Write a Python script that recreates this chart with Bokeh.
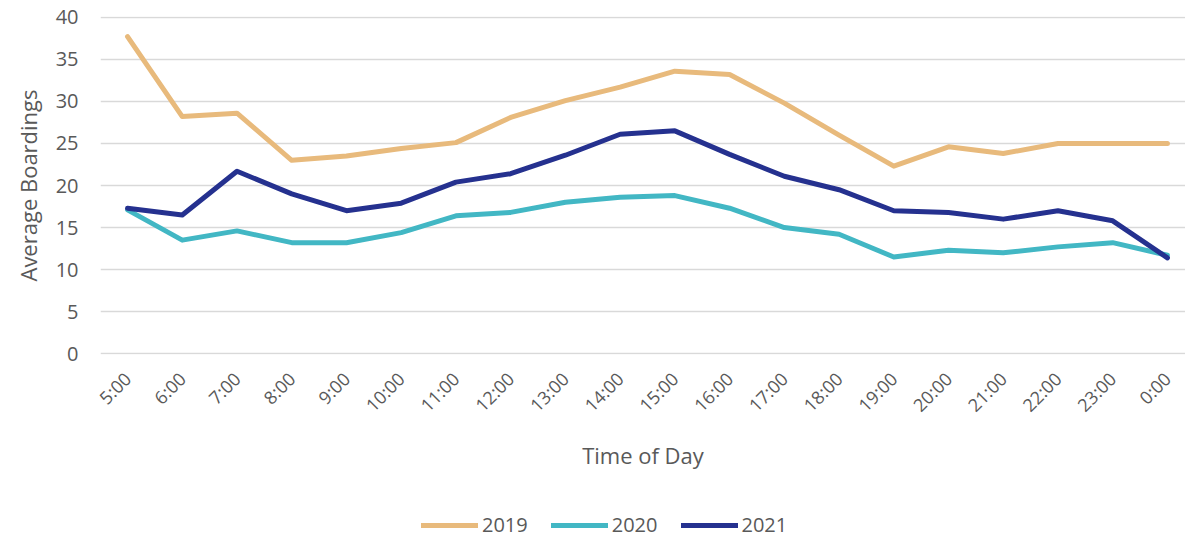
from bokeh.plotting import figure
from bokeh.layouts import column
from bokeh.models import ColumnDataSource, FixedTicker, Legend, LegendItem, Range1d
from bokeh.embed import file_html
from bokeh.resources import INLINE
import math

hours = ["5:00", "6:00", "7:00", "8:00", "9:00", "10:00", "11:00", "12:00", "13:00", "14:00",
         "15:00", "16:00", "17:00", "18:00", "19:00", "20:00", "21:00", "22:00", "23:00", "0:00"]
y2019 = [37.7, 28.2, 28.6, 23.0, 23.5, 24.4, 25.1, 28.1, 30.1, 31.7,
         33.6, 33.2, 29.8, 26.0, 22.3, 24.6, 23.8, 25.0, 25.0, 25.0]
y2020 = [17.1, 13.5, 14.6, 13.2, 13.2, 14.4, 16.4, 16.8, 18.0, 18.6,
         18.8, 17.3, 15.0, 14.2, 11.5, 12.3, 12.0, 12.7, 13.2, 11.7]
y2021 = [17.3, 16.5, 21.7, 19.0, 17.0, 17.9, 20.4, 21.4, 23.6, 26.1,
         26.5, 23.7, 21.1, 19.5, 17.0, 16.8, 16.0, 17.0, 15.8, 11.4]
series_names = ["2019", "2020", "2021"]
colors = ["#E8BA7C", "#42B7C4", "#25318F"]
y_ticks = [0, 5, 10, 15, 20, 25, 30, 35, 40]

FONT = "Open Sans"
TXT = "#595959"

xs = list(range(len(hours)))
src = ColumnDataSource(dict(x=xs, y2019=y2019, y2020=y2020, y2021=y2021))
cols = ["y2019", "y2020", "y2021"]

p = figure(frame_width=1085, frame_height=338, output_backend="svg", toolbar_location=None,
           x_range=Range1d(-0.494, 19.33), y_range=Range1d(-0.1, 40.1),
           min_border_left=100, min_border_right=0, min_border_top=16, min_border_bottom=156)
p.outline_line_color = None
p.background_fill_color = "white"
p.border_fill_color = "white"

for col, c in zip(cols, colors):
    p.line("x", col, source=src, line_color=c, line_width=5,
           line_join="round", line_cap="round")

p.xgrid.grid_line_color = None
p.ygrid.grid_line_color = "#D9D9D9"
p.ygrid.grid_line_width = 1.5
p.ygrid.ticker = FixedTicker(ticks=y_ticks)

p.yaxis.ticker = FixedTicker(ticks=y_ticks)
p.xaxis.ticker = FixedTicker(ticks=xs)
p.xaxis.major_label_overrides = {i: h for i, h in enumerate(hours)}
p.xaxis.major_label_orientation = math.pi / 4

for ax in (p.xaxis[0], p.yaxis[0]):
    ax.axis_line_color = None
    ax.major_tick_line_color = None
    ax.minor_tick_line_color = None
    ax.major_tick_out = 0
    ax.major_tick_in = 0
    ax.major_label_text_font = FONT
    ax.major_label_text_color = TXT
    ax.axis_label_text_font = FONT
    ax.axis_label_text_color = TXT
    ax.axis_label_text_font_style = "normal"
    ax.axis_label_text_font_size = "22px"

p.xaxis.major_label_text_font_size = "18px"
p.yaxis.major_label_text_font_size = "20px"
p.xaxis.major_label_standoff = 21
p.yaxis.major_label_standoff = 22
p.xaxis.axis_label = "Time of Day"
p.yaxis.axis_label = "Average Boardings"
p.xaxis.axis_label_standoff = 12
p.yaxis.axis_label_standoff = 10

# Legend strip below the chart (same series, drawn out of view so only the legend shows)
lg = figure(width=1185, height=29, output_backend="svg", toolbar_location=None,
            x_range=Range1d(100, 101), y_range=Range1d(100, 101),
            x_axis_type=None, y_axis_type=None,
            min_border_left=0, min_border_right=0, min_border_top=0, min_border_bottom=0)
lg.outline_line_color = None
lg.grid.visible = False
lg_renderers = []
for col, c in zip(cols, colors):
    r = lg.line("x", col, source=src, line_color=c, line_width=5, line_cap="round")
    lg_renderers.append(r)

legend = Legend(items=[LegendItem(label=n, renderers=[r]) for n, r in zip(series_names, lg_renderers)],
                orientation="horizontal", location=(321, 1),
                label_text_font=FONT, label_text_color=TXT, label_text_font_size="20px",
                glyph_width=57, glyph_height=20, label_height=20, label_standoff=4, spacing=23,
                border_line_color=None, background_fill_alpha=0, margin=0, padding=0)
lg.add_layout(legend, "center")

layout = column(p, lg, spacing=0)
open("out.html", "w").write(file_html(layout, INLINE))
